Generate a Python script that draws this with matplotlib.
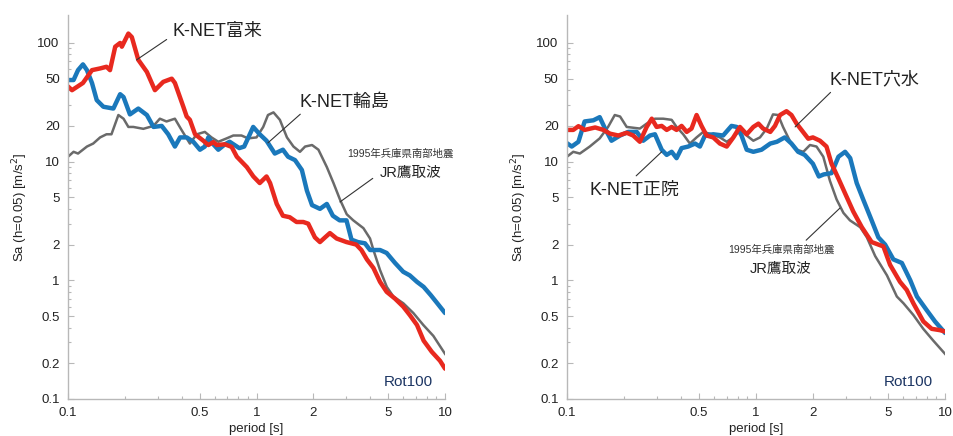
#coding:utf-8
import numpy as np
import matplotlib
matplotlib.use('Agg')
import matplotlib.pyplot as plt
from matplotlib.ticker import FixedLocator, FixedFormatter, NullFormatter

plt.rcParams['font.family'] = ['Liberation Sans', 'Noto Sans CJK JP', 'DejaVu Sans']

# ---- left panel: K-NET富来 (red), K-NET輪島 (blue), JR鷹取波 (gray)
T_fuku = [0.10, 0.105, 0.12, 0.134, 0.148, 0.16, 0.167, 0.178, 0.189, 0.193, 0.209, 0.218, 0.236,
          0.262, 0.289, 0.32, 0.355, 0.369, 0.409, 0.426, 0.443, 0.472, 0.522, 0.555, 0.59, 0.615,
          0.68, 0.738, 0.786, 0.888, 0.962, 1.04, 1.13, 1.18, 1.28, 1.38, 1.5, 1.63, 1.77, 1.88,
          2.04, 2.17, 2.31, 2.45, 2.66, 3.0, 3.38, 3.6, 3.85, 4.17, 4.52, 4.9, 5.43, 6.0, 6.5,
          7.1, 7.7, 8.5, 9.4, 10]
Sa_fuku = [43, 40, 46, 59, 61, 63, 59, 93, 100, 93, 120, 112, 72,
           57, 40, 47, 50, 46, 29, 24, 22.5, 17, 15, 13.8, 14.6, 13.8,
           14, 13.3, 11, 9.0, 7.5, 6.6, 7.5, 6.6, 4.4, 3.5, 3.4, 3.1, 3.1, 3.0,
           2.3, 2.1, 2.3, 2.5, 2.25, 2.1, 2.0, 1.8, 1.5, 1.27, 0.97, 0.8, 0.7, 0.6, 0.51,
           0.42, 0.31, 0.25, 0.21, 0.18]

T_waji = [0.1, 0.107, 0.113, 0.12, 0.126, 0.134, 0.142, 0.154, 0.174, 0.189, 0.197, 0.213, 0.236,
          0.262, 0.284, 0.314, 0.34, 0.369, 0.393, 0.426, 0.462, 0.501, 0.532, 0.555, 0.59, 0.627,
          0.68, 0.72, 0.81, 0.86, 0.96, 1.04, 1.13, 1.25, 1.38, 1.47, 1.6, 1.74, 1.85, 1.97,
          2.17, 2.36, 2.54, 2.76, 3.0, 3.19, 3.45, 3.76, 4.0, 4.52, 4.9, 5.43, 6.0, 6.5, 7.1,
          7.7, 8.4, 9.1, 10]
Sa_waji = [48.7, 48.7, 59, 66, 59, 46, 33, 29, 28, 37, 35, 25, 28,
           24.7, 19.6, 20, 17, 13.4, 16, 16, 14.7, 12.6, 13.4, 16, 14, 12.6,
           14, 14.7, 13, 13.4, 19.6, 17, 15, 11.7, 12.6, 11, 10.3, 8.5, 5.7, 4.3,
           4.0, 4.4, 3.5, 3.2, 3.2, 2.2, 2.1, 2.05, 1.8, 1.8, 1.7, 1.4, 1.18, 1.1, 0.97,
           0.88, 0.75, 0.64, 0.53]

T_taka = [0.1, 0.107, 0.113, 0.126, 0.136, 0.148, 0.16, 0.17, 0.185, 0.197, 0.209, 0.222, 0.251,
          0.284, 0.307, 0.333, 0.369, 0.4, 0.443, 0.482, 0.532, 0.577, 0.627, 0.694, 0.753, 0.832,
          0.902, 1.0, 1.085, 1.15, 1.23, 1.33, 1.45, 1.57, 1.7, 1.81, 1.97, 2.13, 2.36, 2.56,
          2.77, 3.01, 3.26, 3.69, 4.0, 4.17, 4.52, 4.91, 5.32, 6.01, 6.79, 7.67, 8.67, 10]
Sa_taka = [11, 12.1, 11.7, 13.4, 14.2, 16, 17, 17, 24.7, 23, 19.6, 19.6, 18.9,
           20, 23, 21.8, 23, 18.5, 14.2, 17, 17.8, 16, 14.7, 15.7, 16.6, 16.6,
           15.7, 16, 19.6, 24.7, 26, 22.5, 16, 13.4, 12.1, 13.4, 13.8, 12.6, 9.0, 6.6,
           4.8, 3.6, 3.2, 2.75, 2.25, 1.8, 1.22, 0.88, 0.73, 0.64, 0.53, 0.42, 0.34, 0.24]

# ---- right panel: K-NET穴水 (red), K-NET正院 (blue), JR鷹取波 (gray)
T_anam = [0.1, 0.108, 0.115, 0.124, 0.141, 0.156, 0.169, 0.187, 0.207, 0.224, 0.243, 0.264, 0.281,
          0.298, 0.317, 0.337, 0.358, 0.38, 0.404, 0.43, 0.456, 0.485, 0.515, 0.548, 0.594, 0.644,
          0.7, 0.759, 0.822, 0.893, 0.968, 1.03, 1.09, 1.19, 1.26, 1.34, 1.45, 1.54, 1.64, 1.74,
          1.89, 2.0, 2.18, 2.36, 2.51, 2.73, 2.96, 3.27, 3.63, 4.09, 4.44, 4.72, 5.12, 5.78, 6.27,
          6.8, 7.68, 8.5, 9.41, 10]
Sa_anam = [18.5, 18.5, 19.9, 18.5, 19.4, 18.5, 17.2, 16.6, 17.5, 16.6, 14.7, 19.6, 23,
           19.6, 20, 18.5, 19.6, 18.5, 20, 17.8, 19, 24.7, 20, 16.6, 16, 14.2,
           13.4, 16, 19.6, 17, 19.6, 20.9, 19, 17.8, 20, 24.7, 26.6, 24.7, 20.9, 18.5,
           15.6, 16, 15, 13.4, 9.6, 7.2, 5.4, 3.8, 2.8, 2.1, 2.0, 1.93, 1.35, 0.97, 0.83,
           0.64, 0.45, 0.39, 0.38, 0.37]

T_shoi = [0.1, 0.106, 0.115, 0.124, 0.138, 0.149, 0.159, 0.172, 0.191, 0.211, 0.234, 0.253, 0.275,
          0.292, 0.317, 0.337, 0.358, 0.38, 0.404, 0.438, 0.476, 0.505, 0.537, 0.594, 0.67, 0.742,
          0.791, 0.838, 0.893, 0.968, 1.07, 1.19, 1.29, 1.42, 1.54, 1.67, 1.81, 2.0, 2.15, 2.28,
          2.51, 2.73, 2.96, 3.15, 3.41, 3.69, 4.09, 4.44, 4.82, 5.33, 5.91, 6.55, 7.1, 8.0, 8.85, 10]
Sa_shoi = [14.3, 13.4, 14.7, 21.8, 22.3, 23.7, 19, 15, 16.6, 17.8, 17.8, 15, 16.6,
           17, 12.6, 11.4, 12.1, 10.7, 13, 13.4, 14.2, 13.4, 16.6, 17, 16.6, 20,
           19.6, 16.6, 12.6, 12.1, 12.6, 14.2, 14.7, 16, 14.2, 12.1, 11.4, 9.6, 7.5, 7.8,
           8.0, 11, 12.1, 10.7, 6.6, 4.8, 3.2, 2.3, 2.0, 1.5, 1.4, 1.0, 0.73, 0.56, 0.45, 0.36]

T_taka2 = [0.1, 0.108, 0.117, 0.132, 0.149, 0.165, 0.179, 0.191, 0.207, 0.243, 0.264, 0.292, 0.323,
           0.358, 0.38, 0.412, 0.447, 0.485, 0.526, 0.583, 0.644, 0.7, 0.759, 0.822, 0.893, 0.968,
           1.05, 1.14, 1.23, 1.31, 1.39, 1.51, 1.64, 1.78, 1.93, 2.09, 2.27, 2.46, 2.67, 2.9,
           3.14, 3.56, 3.86, 4.27, 4.93, 5.56, 6.03, 6.8, 7.67, 8.67, 10]
Sa_taka2 = [11, 12.1, 11.7, 13.4, 15.7, 19.6, 24.7, 24, 19.6, 19, 20.9, 23, 23,
            22.5, 19.6, 17, 14.2, 16, 17.8, 17, 16, 14.7, 16, 18.5, 16.6, 15,
            16, 19, 25, 24.7, 19.6, 15, 12.6, 12.1, 13.8, 13.4, 11, 6.9, 4.8, 3.7,
            3.2, 2.8, 2.3, 1.6, 1.1, 0.73, 0.64, 0.51, 0.39, 0.31, 0.24]

x_major = [0.1, 0.5, 1, 2, 5, 10]
x_major_lbl = ['0.1', '0.5', '1', '2', '5', '10']
y_major = [0.1, 0.2, 0.5, 1, 2, 5, 10, 20, 50, 100]
y_major_lbl = ['0.1', '0.2', '0.5', '1', '2', '5', '10', '20', '50', '100']

RED = '#e8291f'
BLUE = '#1a78bb'
GRAY = '#6a6a6a'
AXC = '#b8b8b8'


def setup_axes(ax):
    ax.set_xscale('log')
    ax.set_yscale('log')
    ax.set_xlim(0.1, 10)
    ax.set_ylim(0.1, 172)
    for s in ['top', 'right']:
        ax.spines[s].set_visible(False)
    for s in ['left', 'bottom']:
        ax.spines[s].set_color(AXC)
        ax.spines[s].set_linewidth(1.0)
    xminor = [v * d for d in [0.1, 1] for v in range(2, 10)]
    xminor = [v for v in xminor if v not in x_major]
    yminor = [v * d for d in [0.1, 1, 10, 100] for v in range(2, 10)]
    yminor = [v for v in yminor if v not in y_major and v < 172]
    ax.xaxis.set_major_locator(FixedLocator(x_major))
    ax.xaxis.set_major_formatter(FixedFormatter(x_major_lbl))
    ax.xaxis.set_minor_locator(FixedLocator(xminor))
    ax.xaxis.set_minor_formatter(NullFormatter())
    ax.yaxis.set_major_locator(FixedLocator(y_major))
    ax.yaxis.set_major_formatter(FixedFormatter(y_major_lbl))
    ax.yaxis.set_minor_locator(FixedLocator(yminor))
    ax.yaxis.set_minor_formatter(NullFormatter())
    ax.tick_params(which='major', direction='in', length=4, width=0.8, color=AXC,
                   labelsize=9.5, pad=6, labelcolor='#222222')
    ax.tick_params(which='minor', direction='in', length=2.5, width=0.8, color=AXC)
    ax.set_xlabel('period [s]', fontsize=9.5, labelpad=3, color='#222222')
    ax.set_ylabel('Sa (h=0.05) [m/s$^2$]', fontsize=9.5, labelpad=5, color='#222222')
    ax.text(0.967, 0.044, 'Rot100', transform=ax.transAxes, ha='right', va='center',
            fontsize=11, color='#1c3563')


fig = plt.figure(figsize=(9.54, 4.36), dpi=100)
ax1 = fig.add_axes([0.0713, 0.0849, 0.3952, 0.8807])
ax2 = fig.add_axes([0.5943, 0.0849, 0.3963, 0.8807])

for ax in (ax1, ax2):
    setup_axes(ax)

ax1.plot(T_taka, Sa_taka, color=GRAY, lw=1.8, solid_joinstyle='round')
ax1.plot(T_waji, Sa_waji, color=BLUE, lw=3.2, solid_joinstyle='round', solid_capstyle='round')
ax1.plot(T_fuku, Sa_fuku, color=RED, lw=3.2, solid_joinstyle='round', solid_capstyle='round')

ax2.plot(T_taka2, Sa_taka2, color=GRAY, lw=1.8, solid_joinstyle='round')
ax2.plot(T_shoi, Sa_shoi, color=BLUE, lw=3.2, solid_joinstyle='round', solid_capstyle='round')
ax2.plot(T_anam, Sa_anam, color=RED, lw=3.2, solid_joinstyle='round', solid_capstyle='round')

lead = dict(arrowstyle='-', color='#333333', lw=0.8, shrinkB=0)

# left annotations
a = dict(lead); a.update(relpos=(0, 0.3), shrinkA=3)
ax1.annotate('K-NET富来', xy=(0.231, 72), xytext=(0.36, 124), ha='left', va='center',
             fontsize=13, color='#222222', arrowprops=a)
a = dict(lead); a.update(relpos=(0.05, 0), shrinkA=1)
ax1.annotate('K-NET輪島', xy=(1.15, 14.4), xytext=(1.70, 31.8), ha='left', va='center',
             fontsize=13, color='#222222', arrowprops=a)
a = dict(lead); a.update(relpos=(0, 0.5), shrinkA=4)
ax1.annotate('JR鷹取波', xy=(2.77, 4.57), xytext=(4.52, 8.0), ha='left', va='center',
             fontsize=10.5, color='#222222', arrowprops=a)
ax1.text(5.8, 11.6, '1995年兵庫県南部地震', ha='center', va='center', fontsize=7.5,
         color='#333333', clip_on=False)

# right annotations
a = dict(lead); a.update(relpos=(0.05, 0), shrinkA=1)
ax2.annotate('K-NET穴水', xy=(1.61, 19.6), xytext=(2.46, 48.6), ha='left', va='center',
             fontsize=13, color='#222222', arrowprops=a)
a = dict(lead); a.update(relpos=(0.45, 1), shrinkA=3)
ax2.annotate('K-NET正院', xy=(0.317, 12.1), xytext=(0.132, 5.77), ha='left', va='center',
             fontsize=13, color='#222222', arrowprops=a)
a = dict(lead); a.update(relpos=(0.69, 1), shrinkA=2)
ax2.annotate('1995年兵庫県南部地震', xy=(2.78, 4.06), xytext=(1.356, 1.80), ha='center',
             va='center', fontsize=7.5, color='#333333', arrowprops=a)
ax2.text(1.356, 1.245, 'JR鷹取波', ha='center', va='center', fontsize=10.5, color='#222222')

fig.savefig('out.png', dpi=100)
